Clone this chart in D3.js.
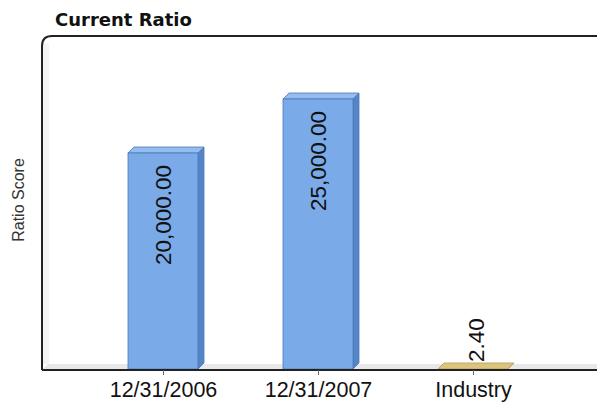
<!DOCTYPE html>
<html>
<head>
<meta charset="utf-8">
<script src="https://cdn.jsdelivr.net/npm/d3@7"></script>
<style>
  html, body { margin: 0; padding: 0; background: #fff; }
  svg { display: block; }
</style>
</head>
<body>
<svg id="chart" width="597" height="403"></svg>
<script>
// Chart data
const categories = ["12/31/2006", "12/31/2007", "Industry"];
const values = [20000, 25000, 2.40];
const valueLabels = ["20,000.00", "25,000.00", "2.40"];
const title = "Current Ratio";
const yTitle = "Ratio Score";

const W = 597, H = 403;
const frame = { left: 42, top: 36, right: 600, bottom: 370 };
const depth = 6;          // 3D extrusion offset
const barWidth = 70;
const floorY = 369;       // front baseline of bars

const svg = d3.select("#chart");

const x = d3.scalePoint()
  .domain(categories)
  .range([85.5, 550.5])
  .padding(0.5);

const y = d3.scaleLinear()
  .domain([0, 30000])
  .range([floorY, 45]);

const palette = {
  "12/31/2006": { front: "#7aaae8", side: "#5585c6", top: "#94bcef", stroke: "#4a78b8" },
  "12/31/2007": { front: "#7aaae8", side: "#5585c6", top: "#94bcef", stroke: "#4a78b8" },
  "Industry":   { front: "#d9bf78", side: "#b89c55", top: "#dcc47f", stroke: "#b79a50" }
};

// Left wall and floor of the 3D plot area
svg.append("rect")
  .attr("x", frame.left + 1).attr("y", frame.top + 8)
  .attr("width", depth).attr("height", frame.bottom - frame.top - 14)
  .attr("fill", "#f4f4f4");

svg.append("path")
  .attr("d", `M${frame.left},${frame.bottom} L${frame.left + depth},${frame.bottom - depth} L${W},${frame.bottom - depth} L${W},${frame.bottom} Z`)
  .attr("fill", "#e8e8e8");

// Frame outline with rounded top-left corner
svg.append("path")
  .attr("d", `M${frame.left},${frame.bottom} L${frame.left},${frame.top + 10} Q${frame.left},${frame.top} ${frame.left + 10},${frame.top} L${W + 5},${frame.top}`)
  .attr("fill", "none")
  .attr("stroke", "#222")
  .attr("stroke-width", 2);

// Bars
const bars = svg.append("g").selectAll("g.bar")
  .data(categories.map((c, i) => ({ c, v: values[i], label: valueLabels[i] })))
  .join("g").attr("class", "bar");

bars.each(function(d) {
  const g = d3.select(this);
  const col = palette[d.c];
  const x0 = x(d.c) - barWidth / 2, x1 = x0 + barWidth;
  const yTop = y(d.v), yBot = y(0);
  // side face
  g.append("path")
    .attr("d", `M${x1},${yBot} L${x1 + depth},${yBot - depth} L${x1 + depth},${yTop - depth} L${x1},${yTop} Z`)
    .attr("fill", col.side).attr("stroke", col.stroke).attr("stroke-width", 0.8);
  // top face
  g.append("path")
    .attr("d", `M${x0},${yTop} L${x0 + depth},${yTop - depth} L${x1 + depth},${yTop - depth} L${x1},${yTop} Z`)
    .attr("fill", col.top).attr("stroke", col.stroke).attr("stroke-width", 0.8);
  // front face
  if (yBot - yTop > 0.5) {
    g.append("rect")
      .attr("x", x0).attr("y", yTop)
      .attr("width", barWidth).attr("height", yBot - yTop)
      .attr("fill", col.front).attr("stroke", col.stroke).attr("stroke-width", 0.8);
  }
});

// Bottom axis line
svg.append("line")
  .attr("x1", frame.left).attr("x2", W + 5)
  .attr("y1", frame.bottom).attr("y2", frame.bottom)
  .attr("stroke", "#222").attr("stroke-width", 2);

// X axis ticks and labels
const xAxis = d3.axisBottom(x).tickSize(5).tickPadding(7);
const gx = svg.append("g")
  .attr("transform", `translate(0,${frame.bottom})`)
  .call(xAxis);
gx.select(".domain").remove();
gx.selectAll(".tick line").attr("stroke", "#666");
gx.selectAll(".tick text")
  .attr("fill", "#111")
  .style("font-family", "'Liberation Sans', Arial, sans-serif")
  .style("font-size", "21.5px");

// Value labels, rotated
svg.append("g").selectAll("text")
  .data(categories.map((c, i) => ({ c, v: values[i], label: valueLabels[i] })))
  .join("text")
  .attr("transform", d => {
    const h = y(0) - y(d.v);
    const inside = h > 120;
    const ty = inside ? y(d.v) + 12 : y(d.v) - 7;
    const tx = x(d.c) + (inside ? 0 : 3);
    return `translate(${tx},${ty}) rotate(-90)`;
  })
  .attr("text-anchor", d => (y(0) - y(d.v) > 120 ? "end" : "start"))
  .attr("dominant-baseline", "central")
  .attr("fill", "#111")
  .style("font-family", "'Liberation Sans', Arial, sans-serif")
  .style("font-size", "22.5px")
  .text(d => d.label);

// Y axis title
svg.append("text")
  .attr("transform", `translate(18,${200}) rotate(-90)`)
  .attr("text-anchor", "middle")
  .attr("dominant-baseline", "central")
  .attr("fill", "#333")
  .style("font-family", "'Liberation Sans', Arial, sans-serif")
  .style("font-size", "16px")
  .text(yTitle);

// Chart title
svg.append("text")
  .attr("x", 55).attr("y", 26)
  .attr("fill", "#111")
  .style("font-family", "'DejaVu Sans', sans-serif")
  .style("font-weight", "bold")
  .style("font-size", "18px")
  .text(title);
</script>
</body>
</html>
